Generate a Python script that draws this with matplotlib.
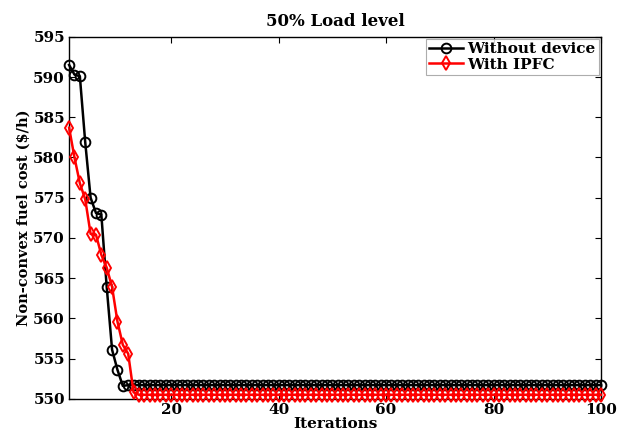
import numpy as np
import matplotlib
matplotlib.use("Agg")
import matplotlib.pyplot as plt

plt.rcParams['font.family'] = ['DejaVu Serif']
plt.rcParams['font.weight'] = 'bold'

# convergence data
iterations = np.arange(1, 101)
without_head = [591.5, 590.3, 590.1, 581.9, 575.0, 573.1, 572.9, 563.9, 556.1, 553.6, 551.6]
ipfc_head = [583.7, 580.0, 576.8, 574.8, 570.5, 570.4, 567.9, 566.3, 563.9, 559.6, 556.7, 555.6, 550.8]
without_flat = 551.7
ipfc_flat = 550.5

without_device = np.array(without_head + [without_flat] * (100 - len(without_head)))
with_ipfc = np.array(ipfc_head + [ipfc_flat] * (100 - len(ipfc_head)))

fig = plt.figure(figsize=(6.17, 4.33), dpi=100)
ax = fig.add_axes([0.112, 0.079, 0.862, 0.836])

ax.plot(iterations, without_device, '-o', color='black', lw=1.8,
        markersize=7, markerfacecolor='none', markeredgewidth=1.4,
        label='Without device', clip_on=False, zorder=3)
ax.plot(iterations, with_ipfc, '-d', color='red', lw=1.8,
        markersize=7, markerfacecolor='none', markeredgewidth=1.4,
        label='With IPFC', clip_on=False, zorder=4)

ax.set_xlim(1, 100)
ax.set_ylim(550, 595)
ax.set_xticks([20, 40, 60, 80, 100])
ax.set_yticks(np.arange(550, 596, 5))
ax.tick_params(direction='in', top=True, right=True, labelsize=11, length=4, pad=3)
for s in ax.spines.values():
    s.set_linewidth(1.0)

ax.set_title('50% Load level', fontsize=12, fontweight='bold', pad=8)
ax.set_xlabel('Iterations', fontsize=11, fontweight='bold', labelpad=0)
ax.set_ylabel('Non-convex fuel cost ($/h)', fontsize=10.5, fontweight='bold', labelpad=2)

leg = ax.legend(loc='upper right', fontsize=11, frameon=True, fancybox=False,
                borderpad=0.2, labelspacing=0.1, handlelength=2.2,
                handletextpad=0.3, borderaxespad=0.15)
leg.get_frame().set_edgecolor('#999999')
leg.get_frame().set_linewidth(0.8)

fig.savefig('out.png', dpi=100)
